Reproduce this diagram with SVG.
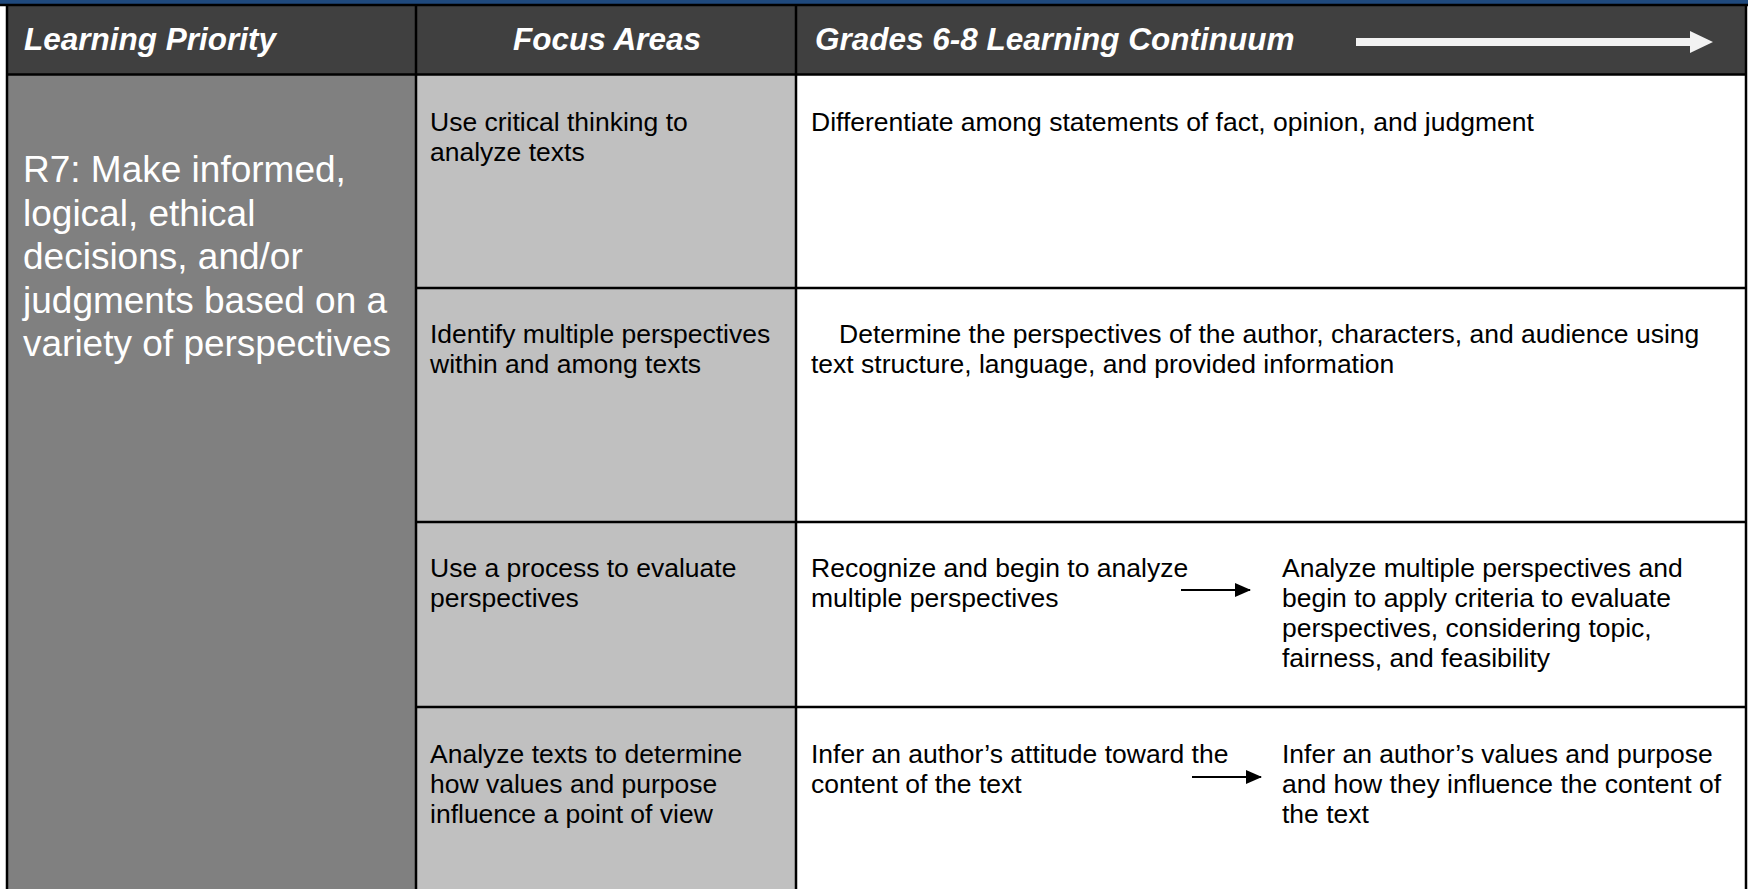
<svg xmlns="http://www.w3.org/2000/svg" width="1748" height="889" viewBox="0 0 1748 889">
<style>
.hd{font-family:"Liberation Sans",Arial,sans-serif;font-weight:bold;font-style:italic;font-size:31.5px;fill:#ffffff}
.big{font-family:"Liberation Sans",Arial,sans-serif;font-size:37px;fill:#ffffff}
.tx{font-family:"Liberation Sans",Arial,sans-serif;font-size:26.5px;fill:#000000}
.ln{stroke:#000000;stroke-width:2.5;fill:none}
.ar{stroke:#000000;stroke-width:2;fill:none}
</style>
<defs>
<marker id="ah" markerWidth="16" markerHeight="14" refX="15" refY="7" orient="auto" markerUnits="userSpaceOnUse" viewBox="0 0 16 14">
<path d="M0,0 L16,7 L0,14 Z" fill="#000000"/>
</marker>
</defs>
<rect x="0" y="0" width="1748" height="889" fill="#ffffff"/>
<rect x="0" y="0" width="1748" height="5" fill="#1f497d"/>
<g id="header">
<rect x="7" y="5" width="1739" height="69" fill="#404040"/>
<text class="hd" x="24" y="50">Learning Priority</text>
<text class="hd" x="607" y="50" text-anchor="middle">Focus Areas</text>
<text class="hd" x="815" y="50">Grades 6-8 Learning Continuum</text>
<path d="M1356,38 H1690 V31 L1713,42 L1690,53 V46 H1356 Z" fill="#f2f2f2"/>
</g>
<g id="priority">
<rect x="7" y="74" width="409" height="815" fill="#808080"/>
<text class="big" x="23"><tspan x="23" y="182">R7: Make informed,</tspan><tspan x="23" y="225.5">logical, ethical</tspan><tspan x="23" y="269">decisions, and/or</tspan><tspan x="23" y="312.5">judgments based on a</tspan><tspan x="23" y="356">variety of perspectives</tspan></text>
</g>
<g id="focus">
<rect x="416" y="74" width="380" height="815" fill="#c0c0c0"/>
<text class="tx"><tspan x="430" y="131">Use critical thinking to</tspan><tspan x="430" y="161">analyze texts</tspan></text>
<text class="tx"><tspan x="430" y="343">Identify multiple perspectives</tspan><tspan x="430" y="373">within and among texts</tspan></text>
<text class="tx"><tspan x="430" y="577">Use a process to evaluate</tspan><tspan x="430" y="607">perspectives</tspan></text>
<text class="tx"><tspan x="430" y="763">Analyze texts to determine</tspan><tspan x="430" y="793">how values and purpose</tspan><tspan x="430" y="823">influence a point of view</tspan></text>
</g>
<g id="continuum">
<text class="tx"><tspan x="811" y="131">Differentiate among statements of fact, opinion, and judgment</tspan></text>
<text class="tx"><tspan x="839" y="343">Determine the perspectives of the author, characters, and audience using</tspan><tspan x="811" y="373">text structure, language, and provided information</tspan></text>
<text class="tx"><tspan x="811" y="577">Recognize and begin to analyze</tspan><tspan x="811" y="607">multiple perspectives</tspan></text>
<text class="tx"><tspan x="1282" y="577">Analyze multiple perspectives and</tspan><tspan x="1282" y="607">begin to apply criteria to evaluate</tspan><tspan x="1282" y="637">perspectives, considering topic,</tspan><tspan x="1282" y="667">fairness, and feasibility</tspan></text>
<text class="tx"><tspan x="811" y="763">Infer an author’s attitude toward the</tspan><tspan x="811" y="793">content of the text</tspan></text>
<text class="tx"><tspan x="1282" y="763">Infer an author’s values and purpose</tspan><tspan x="1282" y="793">and how they influence the content of</tspan><tspan x="1282" y="823">the text</tspan></text>
</g>
<g id="connectors">
<line class="ar" x1="1181" y1="590" x2="1250" y2="590" marker-end="url(#ah)"/>
<line class="ar" x1="1192" y1="777" x2="1261" y2="777" marker-end="url(#ah)"/>
</g>
<g id="grid">
<line class="ln" x1="0" y1="5" x2="1748" y2="5"/>
<line class="ln" x1="7" y1="74.5" x2="1746" y2="74.5"/>
<line class="ln" x1="7" y1="4" x2="7" y2="889"/>
<line class="ln" x1="416" y1="4" x2="416" y2="889"/>
<line class="ln" x1="796" y1="4" x2="796" y2="889"/>
<line class="ln" x1="1746" y1="4" x2="1746" y2="889"/>
<line class="ln" x1="416" y1="288" x2="1746" y2="288"/>
<line class="ln" x1="416" y1="522" x2="1746" y2="522"/>
<line class="ln" x1="416" y1="707" x2="1746" y2="707"/>
</g>
</svg>
